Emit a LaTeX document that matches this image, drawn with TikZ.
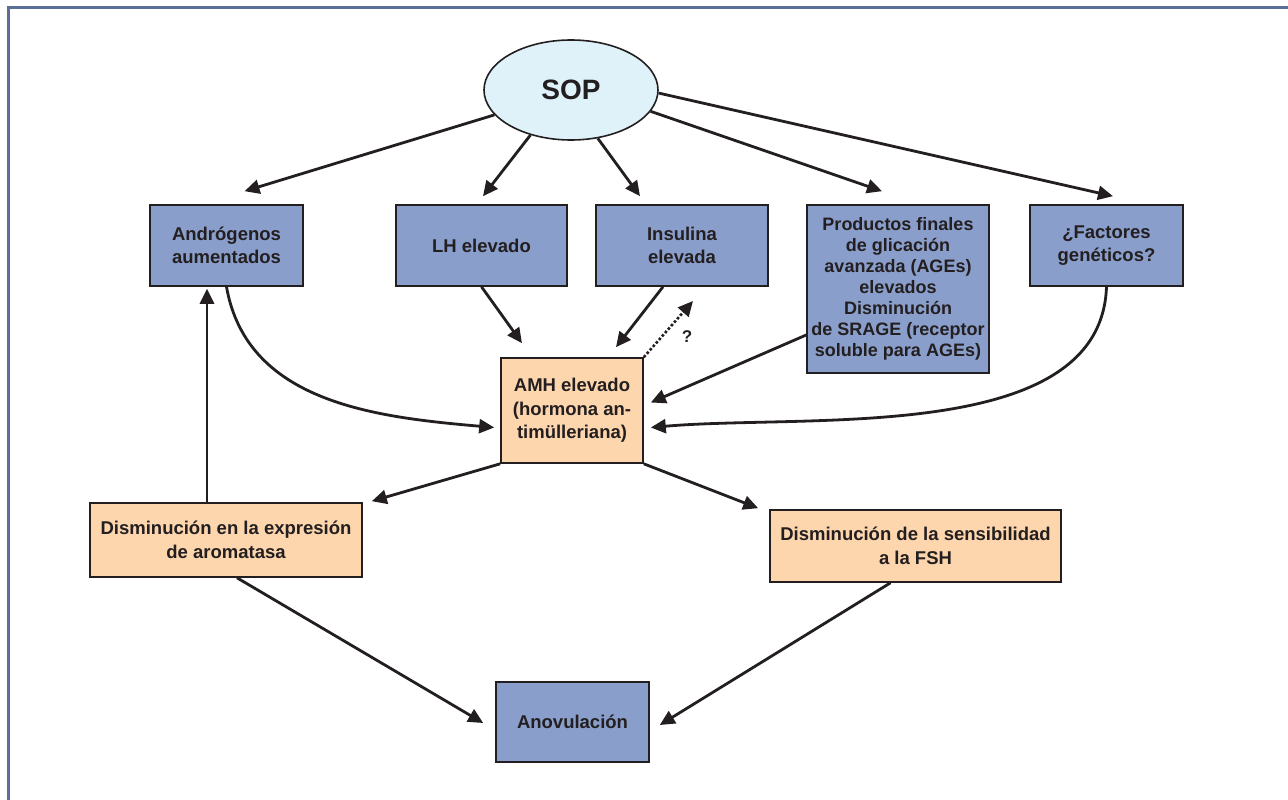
\documentclass[tikz,border=0pt]{standalone}
\usepackage{fontspec}
\setmainfont{Liberation Sans}
\usepackage{tikz}
\usetikzlibrary{arrows.meta, shapes.geometric}
\definecolor{azulcaja}{RGB}{138,158,203}
\definecolor{salmon}{RGB}{253,214,174}
\definecolor{celeste}{RGB}{223,242,250}
\definecolor{marco}{RGB}{91,110,150}
\definecolor{tinta}{RGB}{35,31,32}

\begin{document}
\begin{tikzpicture}[x=1pt, y=-1pt,
  caja/.style={draw=tinta, line width=1.6pt, fill=azulcaja, text=tinta, align=center, inner sep=0pt, font=\bfseries\fontsize{18.5}{23.5}\selectfont},
  cajasalmon/.style={caja, fill=salmon},
  flecha/.style={draw=tinta, line width=2.8pt, -{Triangle[length=15pt,width=14pt]}}]
\useasboundingbox (0,0) rectangle (1288,800);
\draw[marco, line width=3pt] (8,800) -- (8,8) -- (1288,8);

\node[ellipse, draw=tinta, line width=1.6pt, fill=celeste, minimum width=174pt, minimum height=100pt, text=tinta, font=\bfseries\fontsize{28}{32}\selectfont] (sop) at (571,90) {SOP};

\node[caja, minimum width=153pt, minimum height=81pt] (andro) at (226.5,245.5) {Andrógenos\\aumentados};
\node[caja, minimum width=171pt, minimum height=81pt] (lh) at (481.5,245.5) {LH elevado};
\node[caja, minimum width=172pt, minimum height=81pt] (insul) at (682,245.5) {Insulina\\elevada};
\node[caja, minimum width=182pt, minimum height=168pt, font=\bfseries\fontsize{18}{21}\selectfont] (prod) at (898,289) {Productos finales\\de glicación\\avanzada (AGEs)\\elevados\\Disminución\\de SRAGE (receptor\\soluble para AGEs)};
\node[caja, minimum width=153pt, minimum height=81pt] (fact) at (1106.5,245.5) {¿Factores\\genéticos?};
\node[cajasalmon, minimum width=142pt, minimum height=105pt] (amh) at (572,410.5) {AMH elevado\\(hormona an-\\timülleriana)};
\node[cajasalmon, minimum width=272pt, minimum height=74pt] (arom) at (226,540) {Disminución en la expresión\\de aromatasa};
\node[cajasalmon, minimum width=291pt, minimum height=72pt] (fsh) at (915.5,546) {Disminución de la sensibilidad\\a la FSH};
\node[caja, minimum width=153pt, minimum height=80pt] (anov) at (572.5,722) {Anovulación};

\draw[flecha] (sop.198) -- ([xshift=18pt,yshift=13pt]andro.north);
\draw[flecha] (sop.228) -- ([xshift=1.5pt,yshift=8pt]lh.north);
\draw[flecha] (sop.299) -- ([xshift=-42pt,yshift=8pt]insul.north);
\draw[flecha] (sop.345) -- ([xshift=-16pt,yshift=13pt]prod.north);
\draw[flecha] (sop.358) -- ([xshift=6.5pt,yshift=8pt]fact.north);

\draw[flecha] (lh.south) -- ([xshift=-50pt,yshift=14pt]amh.north);
\draw[flecha] ([xshift=-19pt]insul.south) -- ([xshift=44pt,yshift=10pt]amh.north);
\draw[flecha] ([yshift=-46pt]prod.west) -- ([xshift=7pt,yshift=8pt]amh.east);
\draw[flecha] (fact.south) to[out=-92, in=5, looseness=0.85] ([xshift=7pt,yshift=-17pt]amh.east);
\draw[flecha] (andro.south) to[out=-80, in=175] ([xshift=-6pt,yshift=-17pt]amh.west);

\coordinate (duda) at (693,301);
\draw[draw=tinta, line width=2.6pt, dotted, -{Triangle[length=15pt,width=14pt]}] (amh.north east) -- (duda);
\node[text=tinta, font=\bfseries\fontsize{17}{19}\selectfont] (pregunta) at (687,337) {?};

\draw[flecha] (amh.south west) -- ([xshift=9pt,yshift=1pt]arom.north east);
\draw[flecha] (amh.south east) -- ([xshift=-11pt,yshift=1pt]fsh.north west);
\draw[flecha] ([xshift=-19pt]arom.north) -- ([xshift=-19.5pt,yshift=-2pt]andro.south);
\draw[flecha] ([xshift=11pt]arom.south) -- ([xshift=-12pt,yshift=-1pt]anov.west);
\draw[flecha] ([xshift=-25pt]fsh.south) -- ([xshift=10pt,yshift=-3pt]anov.east);
\end{tikzpicture}
\end{document}
